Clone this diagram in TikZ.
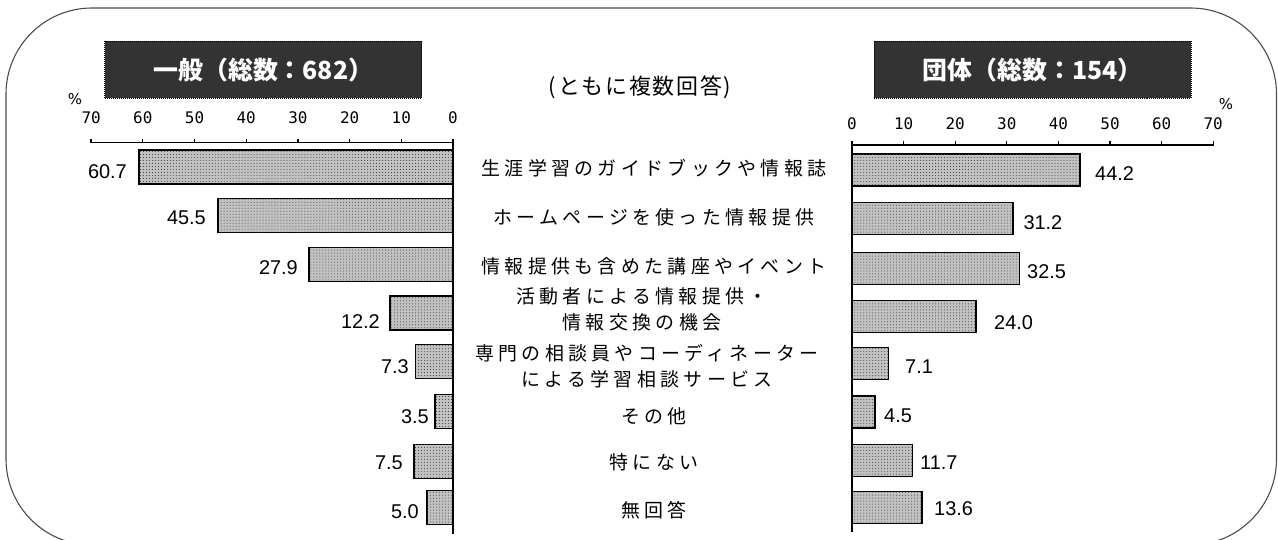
\documentclass[tikz,border=0pt]{standalone}
\usepackage{fontspec}
\setmainfont{Liberation Sans}
\newfontfamily\jplab[LetterSpace=23]{Noto Sans CJK JP}
\newfontfamily\jpnote[LetterSpace=8]{Noto Sans CJK JP}
\newfontfamily\jpttl{Noto Sans CJK JP}
\newfontfamily\tickfnt{DejaVu Sans Mono}
\newfontfamily\pctfnt{DejaVu Sans}
\usetikzlibrary{patterns}
\begin{document}
\begin{tikzpicture}[x=1bp,y=-1bp,
  frame/.style={draw=black!70, line width=1.1bp, rounded corners=86bp},
  titlebox/.style={draw=black, densely dotted, line width=1bp, fill=black!80, text=white,
    font=\jpttl\bfseries\fontsize{25}{28}\selectfont, minimum width=317bp, minimum height=57bp, inner sep=0pt},
  barbox/.style={draw=black, line width=1.5bp, fill=black!24, postaction={pattern=dots, pattern color=black!80}},
  axisline/.style={draw=black, line width=1.3bp},
  ticklab/.style={font=\tickfnt\fontsize{16}{18}\selectfont, inner sep=0pt},
  pct/.style={font=\pctfnt\fontsize{15}{16}\selectfont, inner sep=0pt},
  vallab/.style={font=\fontsize{20}{22}\selectfont, inner sep=0pt},
  catlab/.style={font=\jplab\fontsize{19}{26}\selectfont, align=center, inner sep=0pt},
]
\useasboundingbox (0,0) rectangle (1278,540);
% outer frame
\draw[frame] (6,8) rectangle (1276.5,545);
% title boxes
\node[titlebox] (tg) at (263.3,70) {一般（総数：682）};
\node[titlebox] (td) at (1032.5,70) {団体（総数：154）};
\node[font=\jpnote\fontsize{22}{24}\selectfont, inner sep=0pt] (note) at (640,87) {(ともに複数回答)};
% left axis
\draw[axisline] (91,142.7) -- (453,142.7);
\draw[axisline] (453,139) -- (453,534);
\foreach \k in {1,...,7} \draw[axisline] ({453-\k*51.7},142.7) -- ++(0,-3.6);
\foreach \k/\lab in {0/0,1/10,2/20,3/30,4/40,5/50,6/60,7/70}
  \node[ticklab] (lt\k) at ({453-\k*51.7},118) {\lab};
\node[pct] (lp) at (75,99) {\char"25};
% right axis
\draw[axisline] (852,145) -- (1213.5,145);
\draw[axisline] (852,141.5) -- (852,532);
\foreach \k in {1,...,7} \draw[axisline] ({852+\k*51.6},145) -- ++(0,-3.6);
\foreach \k/\lab in {0/0,1/10,2/20,3/30,4/40,5/50,6/60,7/70}
  \node[ticklab] (rt\k) at ({852+\k*51.6},123.8) {\lab};
\node[pct] (rp) at (1226,104) {\char"25};
% left bars
\foreach \v/\t/\lx/\ly [count=\i] in {60.7/150/127/171.7, 45.5/198.5/206/218, 27.9/247.5/298/268, 12.2/296/380/322,
    7.3/344.3/409/366.7, 3.5/394.3/429/417, 7.5/444.3/403/462.7, 5.0/490.7/419/511.7} {
  \draw[barbox] ({453-\v*5.17},\t) rectangle (453,\t+34);
  \node[vallab, anchor=east] (lv\i) at (\lx,\ly) {\v};
}
% right bars
\foreach \v/\t/\lx/\ly [count=\i] in {44.2/154/1095/173.3, 31.2/202.7/1023.3/223, 32.5/252.7/1027/271.7, 24.0/300.7/994/323,
    7.1/347.7/905/367, 4.5/396/884/415.7, 11.7/444.3/920/463, 13.6/491.7/934/509} {
  \draw[barbox] (852,\t) rectangle ({852+\v*5.16},\t+32);
  \node[vallab, anchor=west] (rv\i) at (\lx,\ly) {\v};
}
% category labels
\node[catlab] (c1) at (654,168.3) {生涯学習のガイドブックや情報誌};
\node[catlab] (c2) at (654,217.7) {ホームページを使った情報提供};
\node[catlab] (c3) at (654,266) {情報提供も含めた講座やイベント};
\node[catlab] (c4) at (642,309) {活動者による情報提供・\\情報交換の機会};
\node[catlab] (c5) at (647,366.5) {専門の相談員やコーディネーター\\による学習相談サービス};
\node[catlab] (c6) at (654,416) {その他};
\node[catlab] (c7) at (654,462) {特にない};
\node[catlab] (c8) at (654,510) {無回答};
\end{tikzpicture}
\end{document}
